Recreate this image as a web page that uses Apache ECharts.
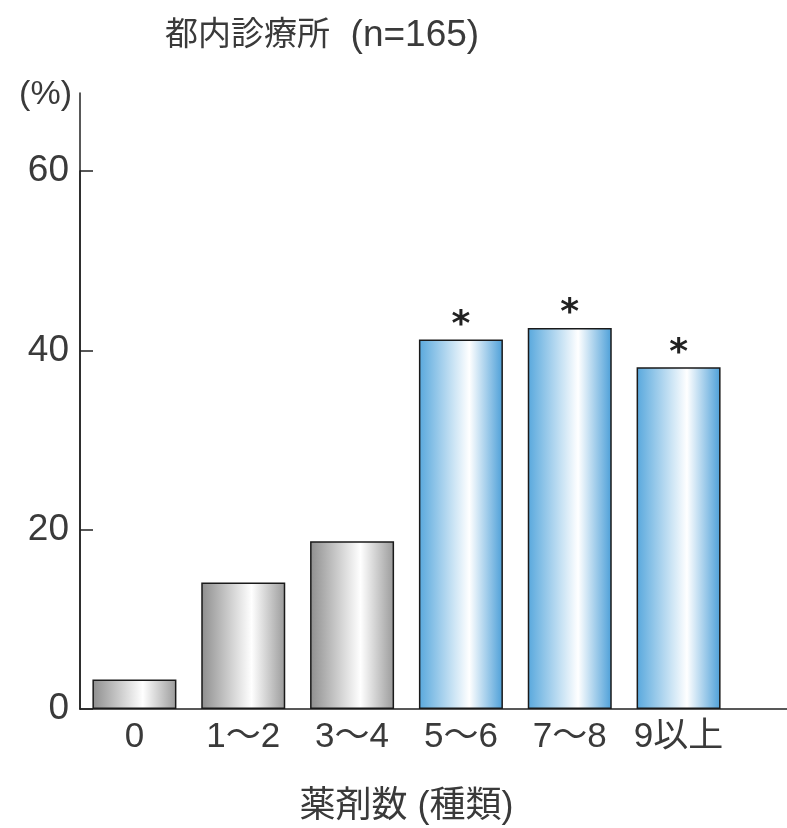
<!DOCTYPE html>
<html>
<head>
<meta charset="utf-8">
<script src="https://cdn.jsdelivr.net/npm/echarts@6/dist/echarts.min.js"></script>
<style>
  html, body { margin: 0; padding: 0; background: #fff; }
  #chart { width: 787px; height: 828px; }
</style>
</head>
<body>
<div id="chart"></div>
<script>
const categories = ['0', '1〜2', '3〜4', '5〜6', '7〜8', '9以上'];
const percents = [3.3, 14.1, 18.7, 41.2, 42.5, 38.1];
const marks = ['', '', '', '*', '*', '*'];
const highlighted = [false, false, false, true, true, true];

const font = '"Liberation Sans", "Noto Sans CJK JP", sans-serif';
const textColor = '#3a3a3a';

const grayFill = {
  type: 'linear', x: 0, y: 0, x2: 1, y2: 0,
  colorStops: [
    { offset: 0, color: '#8e8e8e' },
    { offset: 0.6, color: '#ffffff' },
    { offset: 1, color: '#9a9a9a' }
  ]
};
const blueFill = {
  type: 'linear', x: 0, y: 0, x2: 1, y2: 0,
  colorStops: [
    { offset: 0, color: '#58a8dd' },
    { offset: 0.6, color: '#ffffff' },
    { offset: 1, color: '#4c9fd8' }
  ]
};

const barData = percents.map((v, i) => ({
  value: v,
  itemStyle: { color: highlighted[i] ? blueFill : grayFill },
  label: { formatter: marks[i] }
}));

const chart = echarts.init(document.getElementById('chart'));

const option = {
  animation: false,
  title: {
    text: '{a|都内診療所}{b|  (n=165)}',
    left: 160,
    top: 12,
    textStyle: {
      fontWeight: 'normal',
      rich: {
        a: { fontFamily: font, fontSize: 33, fontWeight: 'normal', color: textColor },
        b: { fontFamily: font, fontSize: 37, fontWeight: 'normal', color: textColor }
      }
    }
  },
  grid: [
    // bars live here
    { left: 80, right: 54, top: 171, bottom: 119, outerBoundsMode: 'none' },
    // only draws the long axis lines
    { left: 80, right: 0, top: 93, bottom: 119, outerBoundsMode: 'none' }
  ],
  xAxis: [{
    gridIndex: 0,
    type: 'category',
    data: categories,
    axisLine: { show: false },
    axisTick: { show: false },
    axisLabel: { interval: 0, fontFamily: font, fontSize: 35, color: textColor, margin: 11 },
    name: '薬剤数 (種類)',
    nameLocation: 'middle',
    nameGap: 80,
    nameTextStyle: { fontFamily: font, fontSize: 36, color: textColor }
  }, {
    gridIndex: 1,
    type: 'value',
    min: 0,
    max: 1,
    axisLine: { show: true, lineStyle: { color: '#222', width: 1.5 } },
    axisTick: { show: false },
    axisLabel: { show: false },
    splitLine: { show: false }
  }],
  yAxis: [{
    gridIndex: 0,
    type: 'value',
    min: 0,
    max: 60,
    interval: 20,
    axisLine: { show: true, lineStyle: { color: '#222', width: 1.5 } },
    axisTick: { show: true, inside: true, length: 13, lineStyle: { color: '#222', width: 1.5 } },
    axisLabel: { fontFamily: font, fontSize: 37, color: textColor, margin: 11 },
    splitLine: { show: false }
  }, {
    gridIndex: 1,
    type: 'value',
    min: 0,
    max: 1,
    axisLine: { show: true, lineStyle: { color: '#222', width: 1.5 } },
    axisTick: { show: false },
    axisLabel: { show: false },
    splitLine: { show: false },
    name: '(%)',
    nameLocation: 'end',
    nameGap: -2,
    nameTextStyle: {
      fontFamily: font, fontSize: 34, color: textColor,
      align: 'right', verticalAlign: 'middle', padding: [0, 8, 0, 0]
    }
  }],
  series: [{
    type: 'bar',
    xAxisIndex: 0,
    yAxisIndex: 0,
    barWidth: 84,
    data: barData,
    itemStyle: { borderColor: '#1a1a1a', borderWidth: 1.5 },
    label: {
      show: true,
      position: 'top',
      distance: -4,
      fontFamily: '"DejaVu Sans", sans-serif',
      fontSize: 36,
      fontWeight: 'bold',
      color: '#222'
    }
  }]
};

chart.setOption(option);
</script>
</body>
</html>
